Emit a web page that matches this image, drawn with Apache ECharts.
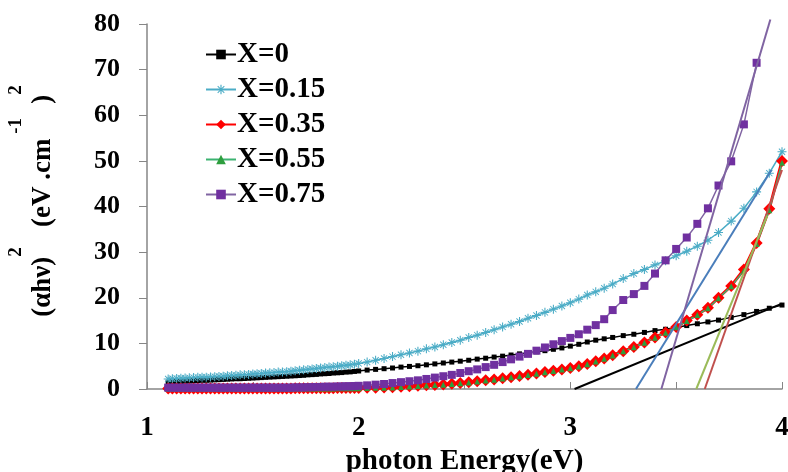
<!DOCTYPE html>
<html>
<head>
<meta charset="utf-8">
<script src="https://cdn.jsdelivr.net/npm/echarts@6/dist/echarts.min.js"></script>
<style>
html, body { margin: 0; padding: 0; background: #fff; }
#chart { width: 788px; height: 472px; }
</style>
</head>
<body>
<div id="chart"></div>
<script>
// photon energy (eV), shared x for every sample
var energy = [1.10,1.12,1.14,1.16,1.18,1.20,1.22,1.24,1.26,1.28,
  1.30,1.32,1.34,1.36,1.38,1.40,1.42,1.44,1.46,1.48,
  1.50,1.52,1.54,1.56,1.58,1.60,1.62,1.64,1.66,1.68,
  1.70,1.72,1.74,1.76,1.78,1.80,1.82,1.84,1.86,1.88,
  1.90,1.92,1.94,1.96,1.98,2.00,
  2.04,2.08,2.12,2.16,2.20,2.24,2.28,2.32,2.36,
  2.40,2.44,2.48,2.52,2.56,2.60,2.64,2.68,2.72,2.76,
  2.80,2.84,2.88,2.92,2.96,3.00,3.04,3.08,3.12,3.16,
  3.20,3.25,3.30,3.35,3.40,3.45,3.50,3.55,3.60,3.65,
  3.70,3.76,3.82,3.88,3.94,4.00];

// (ahv)^2 for each composition
var x0 = [1.5,1.55,1.6,1.65,1.7,1.75,1.8,1.85,1.9,1.9,
  1.95,2.0,2.05,2.1,2.15,2.2,2.25,2.25,2.3,2.35,
  2.4,2.45,2.5,2.55,2.6,2.65,2.7,2.75,2.8,2.85,
  2.9,2.95,3.0,3.1,3.15,3.2,3.3,3.35,3.4,3.5,
  3.55,3.6,3.7,3.75,3.85,3.95,
  4.15,4.3,4.45,4.6,4.8,4.95,5.1,5.3,5.5,
  5.7,5.9,6.1,6.3,6.55,6.75,7.0,7.2,7.45,7.7,
  7.9,8.15,8.4,8.7,9.0,9.4,9.8,10.3,10.7,11.0,
  11.3,11.7,12.0,12.4,12.8,13.1,13.5,13.9,14.3,14.7,
  15.1,15.7,16.3,17.0,17.7,18.4];
var x015 = [2.2,2.25,2.3,2.35,2.4,2.45,2.5,2.55,2.6,2.6,
  2.65,2.7,2.75,2.8,2.9,2.95,3.0,3.1,3.15,3.2,
  3.3,3.35,3.4,3.5,3.55,3.6,3.7,3.75,3.8,3.9,
  4.0,4.1,4.2,4.3,4.4,4.5,4.6,4.7,4.8,4.9,
  5.0,5.1,5.2,5.3,5.45,5.6,
  5.9,6.3,6.7,7.1,7.5,7.9,8.3,8.8,9.2,
  9.7,10.2,10.7,11.3,11.8,12.4,13.0,13.6,14.2,14.8,
  15.5,16.1,16.8,17.5,18.2,18.9,19.7,20.6,21.3,22.1,
  23.0,24.2,25.3,26.2,27.2,28.1,29.2,30.2,31.3,32.6,
  34.3,36.8,39.6,43.2,47.3,52.0];
var x035 = [0.1,0.1,0.1,0.1,0.1,0.1,0.1,0.1,0.1,0.1,
  0.1,0.1,0.1,0.1,0.1,0.1,0.1,0.1,0.1,0.1,
  0.1,0.1,0.1,0.1,0.1,0.1,0.1,0.1,0.1,0.1,
  0.15,0.15,0.15,0.15,0.15,0.15,0.15,0.15,0.15,0.15,
  0.2,0.2,0.2,0.2,0.2,0.2,
  0.25,0.3,0.35,0.4,0.5,0.6,0.7,0.8,0.9,
  1.0,1.15,1.3,1.5,1.7,1.9,2.1,2.35,2.6,2.85,
  3.1,3.4,3.7,4.0,4.3,4.6,5.0,5.5,6.1,6.7,
  7.4,8.3,9.2,10.2,11.3,12.4,13.6,15.0,16.3,17.8,
  20.0,22.6,26.2,32.0,39.5,50.0];
var x055 = [0.05,0.05,0.05,0.05,0.05,0.05,0.05,0.05,0.05,0.05,
  0.05,0.05,0.05,0.05,0.05,0.05,0.05,0.05,0.05,0.05,
  0.05,0.05,0.05,0.05,0.05,0.05,0.05,0.05,0.05,0.05,
  0.1,0.1,0.1,0.1,0.1,0.1,0.1,0.1,0.1,0.1,
  0.15,0.15,0.15,0.15,0.15,0.15,
  0.2,0.25,0.3,0.35,0.45,0.55,0.65,0.75,0.85,
  0.95,1.1,1.25,1.45,1.65,1.85,2.05,2.3,2.55,2.8,
  3.05,3.35,3.65,3.95,4.25,4.55,4.95,5.45,6.05,6.65,
  7.35,8.25,9.15,10.15,11.25,12.35,13.55,14.9,16.2,17.7,
  19.9,22.5,26.0,31.8,39.2,49.6];
var x075 = [0.3,0.3,0.3,0.3,0.3,0.3,0.3,0.3,0.3,0.3,
  0.3,0.3,0.3,0.3,0.3,0.3,0.3,0.3,0.3,0.3,
  0.3,0.3,0.3,0.3,0.3,0.3,0.3,0.3,0.3,0.3,
  0.35,0.35,0.35,0.4,0.4,0.45,0.45,0.5,0.5,0.5,
  0.55,0.55,0.6,0.6,0.65,0.7,
  0.8,0.95,1.1,1.3,1.5,1.7,1.9,2.2,2.5,
  2.8,3.1,3.5,3.9,4.3,4.8,5.3,5.9,6.5,7.1,
  7.7,8.4,9.1,9.8,10.5,11.2,12.0,13.0,14.0,15.3,
  17.3,19.5,20.8,22.6,25.3,28.2,30.7,33.2,36.2,39.6,
  44.6,49.9,58.0,71.5,null,null];

// straight-line fits to the absorption edges (start / end points)
var fit0   = [[3.02, 0], [4.00, 18.7]];
var fit015 = [[3.31, 0], [3.95, 48]];
var fit035 = [[3.635, 0], [4.00, 48]];
var fit055 = [[3.595, 0], [3.93, 38]];
var fit075 = [[3.43, 0], [3.945, 81]];

var names = ['X=0', 'X=0.15', 'X=0.35', 'X=0.55', 'X=0.75'];

var serif = 'Liberation Serif';
var asterisk = 'path://M4.4,0h1.2v10h-1.2z M0,4.4h10v1.2h-10z M1.2,1.9L1.9,1.2L8.8,8.1L8.1,8.8z M8.1,1.2L8.8,1.9L1.9,8.8L1.2,8.1z';

function pairs(vals) {
  return energy.map(function (e, i) { return [e, vals[i]]; });
}

function sample(name, vals, color, symbol, size, width, markColor) {
  return {
    name: name,
    type: 'line',
    data: pairs(vals),
    symbol: symbol,
    symbolSize: size,
    showAllSymbol: true,
    lineStyle: { color: color, width: width },
    itemStyle: { color: markColor || color },
    emphasis: { disabled: true }
  };
}

function fit(data, color) {
  return {
    type: 'line',
    data: data,
    symbol: 'none',
    silent: true,
    clip: false,
    lineStyle: { color: color, width: 2 },
    z: 5
  };
}

var chart = echarts.init(document.getElementById('chart'));
chart.setOption({
  animation: false,
  grid: { left: 147, right: 6, top: 24, bottom: 83, outerBoundsMode: 'none', containLabel: false },
  legend: {
    data: names,
    orient: 'vertical',
    left: 200,
    top: 35,
    itemWidth: 30,
    itemHeight: 12,
    itemGap: 6,
    textStyle: { fontFamily: serif, fontWeight: 'bold', fontSize: 29, color: '#000', padding: [0, 0, 0, -4] }
  },
  xAxis: {
    type: 'value',
    min: 1,
    max: 4,
    interval: 1,
    name: 'photon Energy(eV)',
    nameLocation: 'middle',
    nameGap: 51,
    nameTextStyle: { fontFamily: serif, fontWeight: 'bold', fontSize: 29, color: '#000' },
    axisLine: { lineStyle: { color: '#868686', width: 1.5 } },
    axisTick: { inside: true, length: 7, lineStyle: { color: '#868686' } },
    minorTick: { show: true, splitNumber: 2, length: 7, lineStyle: { color: '#868686' } },
    splitLine: { show: false },
    axisLabel: { margin: 26, fontFamily: serif, fontWeight: 'bold', fontSize: 27, color: '#000' }
  },
  yAxis: {
    type: 'value',
    min: 0,
    max: 80,
    interval: 10,
    name: '{m|(αhν)}{s|2}{m|   (eV .cm}{s| -1   }{m|)}{s|2}{z| }',
    nameLocation: 'middle',
    nameGap: 90,
    nameTextStyle: {
      fontFamily: serif, fontWeight: 'bold', fontSize: 27, color: '#000',
      padding: [0, 0, 0, 12],
      rich: {
        m: { fontFamily: serif, fontWeight: 'bold', fontSize: 27, color: '#000', verticalAlign: 'bottom' },
        s: { fontFamily: serif, fontWeight: 'bold', fontSize: 19, color: '#000', verticalAlign: 'top' },
        z: { fontSize: 1, width: 1, lineHeight: 50 }
      }
    },
    axisLine: { show: true, lineStyle: { color: '#868686', width: 1.5 } },
    axisTick: { show: true, length: 8, lineStyle: { color: '#868686' } },
    splitLine: { show: false },
    axisLabel: { margin: 27, fontFamily: serif, fontWeight: 'bold', fontSize: 26, color: '#000' }
  },
  series: [
    sample(names[0], x0, '#000000', 'rect', 5, 1.5),
    sample(names[1], x015, '#4bacc6', asterisk, 9, 1.5),
    sample(names[2], x035, '#ff0000', 'diamond', 12, 3),
    sample(names[3], x055, '#3cb371', 'triangle', 6, 1.5, '#2e9e3e'),
    sample(names[4], x075, '#8064a2', 'rect', 8, 1.5, '#7030a0'),
    fit(fit0, '#000000'),
    fit(fit015, '#4a7ebb'),
    fit(fit035, '#c0504d'),
    fit(fit055, '#9bbb59'),
    fit(fit075, '#8064a2')
  ]
});
</script>
</body>
</html>
